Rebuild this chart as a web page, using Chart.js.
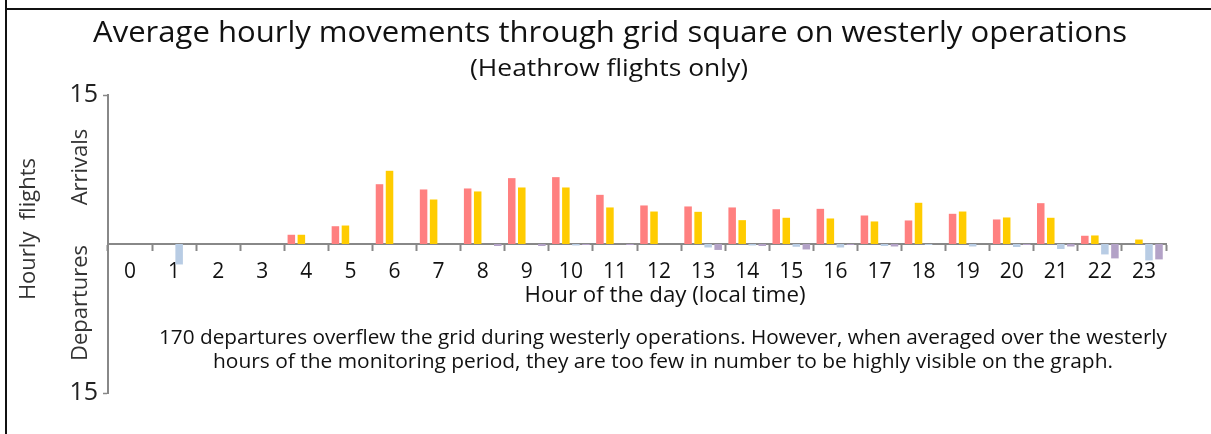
<!DOCTYPE html>
<html>
<head>
<meta charset="utf-8">
<script src="https://cdn.jsdelivr.net/npm/chart.js@4/dist/chart.umd.min.js"></script>
<style>
  body { margin: 0; background: #fff; }
  canvas { display: block; }
</style>
</head>
<body>
<canvas id="movementsChart" width="1211" height="434"></canvas>
<script>
// hour of the day, local time
const hours = ['0', '1', '2', '3', '4', '5', '6', '7', '8', '9', '10', '11',
    '12', '13', '14', '15', '16', '17', '18', '19', '20', '21', '22', '23'];

// arrivals (plotted upwards)
const arrivalsPink = [0, 0, 0, 0, 0.93, 1.79, 6.02, 5.49, 5.59, 6.63, 6.73, 4.95,
    3.88, 3.78, 3.68, 3.5, 3.54, 2.87, 2.37, 3.04, 2.47, 4.11, 0.83, 0];
const arrivalsYellow = [0, 0, 0, 0, 0.93, 1.86, 7.37, 4.48, 5.29, 5.69, 5.69, 3.68,
    3.27, 3.24, 2.4, 2.64, 2.57, 2.27, 4.15, 3.27, 2.67, 2.64, 0.86, 0.45];

// departures (plotted downwards)
const departuresBlue = [0, -2.06, 0, 0, 0, 0, 0, 0, 0, 0, -0.15, 0,
    0, -0.35, -0.15, -0.28, -0.35, -0.2, -0.1, -0.25, -0.3, -0.5, -1.05, -1.65];
const departuresPurple = [0, 0, 0, 0, 0, 0, 0, 0, -0.2, -0.2, -0.1, -0.1,
    0, -0.6, -0.2, -0.55, -0.1, -0.25, 0, 0, -0.1, -0.25, -1.45, -1.55];

const yTicks = [-15, 15];

const FONT = '"Open Sans", "DejaVu Sans", sans-serif';

// draw text centred on (x, y), squeezed or stretched to a given width
function fitText(ctx, txt, x, y, size, width) {
    ctx.font = size + 'px ' + FONT;
    const w = ctx.measureText(txt).width;
    ctx.save();
    ctx.translate(x, y);
    ctx.scale(width / w, 1);
    ctx.fillText(txt, 0, 0);
    ctx.restore();
}

// frame lines, titles and the extra labels round the plot
const textPlugin = {
    id: 'texts',
    beforeDraw(chart) {
        const ctx = chart.ctx;
        ctx.save();
        ctx.fillStyle = '#fff';
        ctx.fillRect(0, 0, chart.width, chart.height);
        ctx.strokeStyle = '#111';
        ctx.lineWidth = 2;
        ctx.beginPath();
        ctx.moveTo(6, 0);
        ctx.lineTo(6, chart.height);
        ctx.moveTo(6, 9);
        ctx.lineTo(chart.width, 9);
        ctx.stroke();
        ctx.restore();
    },
    afterDraw(chart) {
        const ctx = chart.ctx;
        ctx.save();
        ctx.fillStyle = '#111';
        ctx.textAlign = 'center';
        ctx.textBaseline = 'middle';

        fitText(ctx, 'Average hourly movements through grid square on westerly operations', 610, 34, 29, 1034);
        fitText(ctx, '(Heathrow flights only)', 609, 69, 23, 278);
        fitText(ctx, 'Hour of the day (local time)', 665, 296, 21, 281);
        fitText(ctx, '170 departures overflew the grid during westerly operations. However, when averaged over the westerly', 663, 338, 20.5, 1008);
        fitText(ctx, 'hours of the monitoring period, they are too few in number to be highly visible on the graph.', 663, 362, 20.5, 900);

        ctx.fillStyle = '#333';
        ctx.font = '22px ' + FONT;
        const rotated = [['Hourly  flights', 29, 229], ['Arrivals', 81, 167], ['Departures', 81, 303]];
        rotated.forEach(([txt, x, y]) => {
            ctx.save();
            ctx.translate(x, y);
            ctx.rotate(-Math.PI / 2);
            ctx.fillText(txt, 0, 0);
            ctx.restore();
        });
        ctx.restore();
    }
};

const ctx = document.getElementById('movementsChart').getContext('2d');
new Chart(ctx, {
    type: 'bar',
    data: {
        labels: hours,
        datasets: [
            { label: 'Arrivals', data: arrivalsPink, backgroundColor: '#FF8080' },
            { label: 'Arrivals', data: arrivalsYellow, backgroundColor: '#FFCC00' },
            { label: 'Departures', data: departuresBlue, backgroundColor: '#B8CCE4' },
            { label: 'Departures', data: departuresPurple, backgroundColor: '#B3A2C7' }
        ]
    },
    options: {
        responsive: false,
        animation: false,
        devicePixelRatio: 1,
        barPercentage: 0.75,
        categoryPercentage: 0.91,
        layout: { padding: { top: 95, bottom: 41, left: 66, right: 45 } },
        plugins: {
            legend: { display: false },
            title: { display: false },
            tooltip: { enabled: false }
        },
        scales: {
            x: {
                position: { y: 0 },
                z: 1,
                grid: {
                    offset: true,
                    drawOnChartArea: false,
                    drawTicks: true,
                    tickLength: 6,
                    tickWidth: 2,
                    color: '#888'
                },
                border: { display: true, color: '#888', width: 2 },
                ticks: {
                    color: '#111',
                    font: { family: FONT, size: 21 },
                    padding: 9,
                    maxRotation: 0,
                    autoSkip: false
                }
            },
            y: {
                min: -15,
                max: 15,
                afterFit: scale => { scale.width = 42; },
                afterBuildTicks: scale => { scale.ticks = yTicks.map(v => ({ value: v })); },
                grid: {
                    drawOnChartArea: false,
                    tickLength: 5,
                    tickWidth: 1.5,
                    color: '#888'
                },
                border: { display: true, color: '#888', width: 2 },
                ticks: {
                    color: '#222',
                    font: { family: FONT, size: 25 },
                    padding: 5,
                    callback: v => Math.abs(v)
                }
            }
        }
    },
    plugins: [textPlugin]
});
</script>
</body>
</html>
